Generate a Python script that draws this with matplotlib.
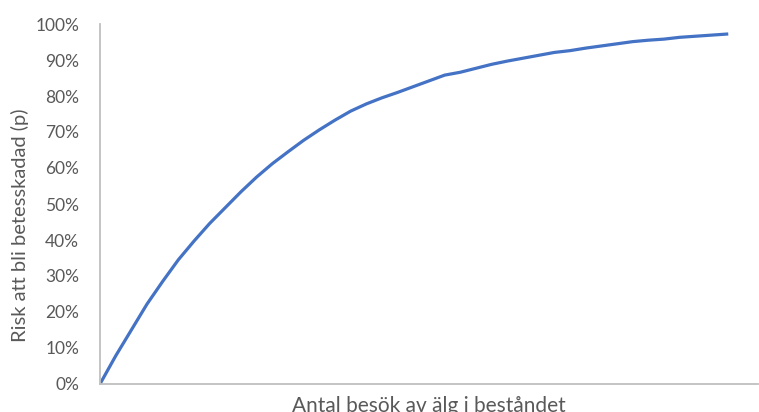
import numpy as np
import matplotlib.pyplot as plt
from matplotlib.ticker import PercentFormatter

# antal besök (kategorier) och avläst risk
besok = [0, 0.5, 1, 1.5, 2, 2.5, 3, 3.5, 4, 4.5, 5, 5.5, 6, 6.5, 7, 7.5,
         8, 8.5, 9, 9.5, 10, 10.5, 11, 11.5, 12, 12.5, 13, 13.5, 14, 14.5,
         15, 15.5, 16, 16.5, 17, 17.5, 18, 18.5, 19, 19.5, 20]
risk = [0.0, 0.078, 0.15, 0.222, 0.285, 0.345, 0.397, 0.446, 0.49, 0.534,
        0.575, 0.612, 0.645, 0.677, 0.706, 0.733, 0.758, 0.778, 0.795,
        0.81, 0.826, 0.842, 0.858, 0.866, 0.877, 0.888, 0.897, 0.905,
        0.913, 0.921, 0.926, 0.933, 0.939, 0.945, 0.951, 0.955, 0.958,
        0.963, 0.966, 0.969, 0.972]
y_ticks = np.arange(0, 1.01, 0.1)

plt.rcParams['font.family'] = ['Lato', 'DejaVu Sans']

fig = plt.figure(figsize=(7.59, 4.12), dpi=100)
ax = fig.add_axes([100 / 759, 28 / 412, 658 / 759, 360 / 412])

ax.plot(besok, risk, color='#4472C4', linewidth=2.3, solid_joinstyle='round')

ax.set_xlim(0, 21)
ax.set_ylim(0, 1)
ax.set_yticks(y_ticks)
ax.yaxis.set_major_formatter(PercentFormatter(1.0, decimals=0))
ax.set_xticks([])
ax.tick_params(axis='y', length=0, pad=15, labelsize=12.5, labelcolor='#595959')

for side in ['top', 'right']:
    ax.spines[side].set_visible(False)
for side in ['left', 'bottom']:
    ax.spines[side].set_color('#BFBFBF')
    ax.spines[side].set_linewidth(1.3)

ax.set_ylabel('Risk att bli betesskadad (p)', fontsize=14.5, color='#595959')
ax.yaxis.set_label_coords(-0.108, 0.44)
ax.set_xlabel('Antal besök av älg i beståndet', fontsize=15, color='#595959')
ax.xaxis.set_label_coords(0.5, -0.033)

fig.savefig('out.png', dpi=100)
